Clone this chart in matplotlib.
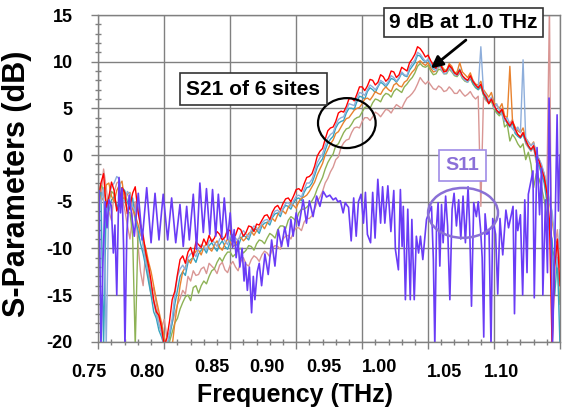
import numpy as np
import matplotlib
matplotlib.use("Agg")
import matplotlib.pyplot as plt
from matplotlib.patches import Ellipse
from matplotlib.ticker import MultipleLocator

plt.rcParams['font.family'] = ['Liberation Sans', 'DejaVu Sans']
plt.rcParams['font.weight'] = 'bold'
plt.rcParams['axes.unicode_minus'] = False

# ---------------- data ----------------
# S21 of the six measured sites, sampled every 2 GHz from 0.750 to 1.100 THz
freq_s21 = np.round(np.linspace(0.750, 1.100, 176), 3)

s21_red = [-4.8, -3.0, -2.0, -5.6, -4.5, -2.9, -3.8, -6.0, -5.2, -3.5,
           -4.0, -6.3, -5.5, -4.1, -3.4, -6.0, -7.5, -8.6, -10.5, -11.8,
           -13.5, -15.6, -16.8, -17.2, -18.5, -20.5, -19.6, -17.8, -15.5, -14.6,
           -12.8, -11.2, -10.8, -11.6, -10.4, -9.9, -10.9, -9.3, -9.6, -9.9,
           -9.0, -9.6, -8.6, -9.3, -8.9, -8.2, -8.5, -9.1, -8.8, -8.0,
           -8.1, -8.9, -8.6, -7.8, -8.0, -8.7, -8.3, -7.6, -7.7, -8.2,
           -7.4, -7.5, -7.0, -6.5, -6.4, -6.9, -6.1, -5.6, -5.4, -5.9,
           -5.2, -4.7, -4.6, -5.0, -4.4, -3.7, -3.6, -3.9, -3.1, -2.4,
           -2.3, -2.0, -1.2, -0.1, 0.4, 0.7, 1.7, 2.6, 2.9, 3.0,
           3.6, 4.5, 4.7, 4.6, 5.2, 6.0, 6.1, 5.8, 6.5, 7.3,
           7.3, 6.9, 7.4, 8.1, 8.0, 7.5, 7.8, 8.6, 8.4, 7.9,
           8.2, 9.0, 8.9, 8.3, 8.6, 9.4, 9.2, 9.0, 9.9, 10.3,
           10.8, 11.6, 11.4, 11.0, 10.5, 10.7, 10.1, 9.6, 9.3, 9.9,
           9.5, 8.9, 9.0, 9.6, 9.3, 8.8, 8.6, 9.1, 8.5, 8.2,
           8.0, 8.5, 7.9, 7.5, 7.2, 7.6, 6.6, 6.2, 5.5, 6.0,
           5.3, 4.8, 4.5, 4.9, 4.0, 3.5, 3.1, 3.6, 2.8, 2.2,
           1.9, 2.4, 1.6, 1.0, 0.6, 1.0, -0.2, -0.6, -1.5, -2.4,
           -4.0, -7.0, -20.5, -12.0, -9.0, -14.0]

s21_blue = [-4.0, -5.2, -3.5, -20.5, -4.5, -3.4, -3.0, -2.3, -2.6, -4.8,
            -5.0, -3.9, -4.2, -5.5, -6.0, -5.2, -8.0, -9.8, -11.5, -12.6,
            -14.0, -15.8, -17.0, -18.2, -19.0, -20.5, -20.5, -19.0, -17.5, -15.0,
            -13.0, -12.2, -11.8, -12.3, -11.0, -10.6, -10.4, -10.9, -10.0, -9.6,
            -9.8, -10.2, -9.2, -9.0, -9.4, -9.8, -9.0, -8.7, -9.2, -9.6,
            -8.7, -8.5, -8.9, -9.2, -8.4, -8.1, -8.5, -8.8, -8.0, -7.6,
            -7.8, -8.1, -7.3, -7.0, -6.9, -7.2, -6.5, -6.0, -5.9, -6.3,
            -5.7, -5.2, -5.1, -5.5, -4.9, -4.4, -4.3, -4.5, -3.7, -3.0,
            -3.0, -2.6, -1.8, -0.8, -0.3, 0.1, 1.0, 1.8, 2.2, 2.4,
            3.2, 3.8, 4.0, 4.1, 4.8, 5.5, 5.4, 5.3, 6.1, 6.7,
            6.6, 6.4, 7.0, 7.5, 7.3, 7.0, 7.4, 8.0, 7.8, 7.5,
            7.9, 8.5, 8.3, 7.9, 8.3, 8.9, 8.6, 8.5, 9.4, 9.8,
            10.2, 11.0, 10.8, 10.4, 10.0, 10.3, 9.8, 9.3, 9.0, 9.6,
            9.2, 8.7, 8.8, 9.4, 9.0, 8.6, 8.5, 8.9, 8.3, 8.0,
            7.8, 8.3, 8.0, 7.4, 7.2, 11.6, 6.8, 6.4, 5.8, 6.2,
            5.0, 5.5, 4.8, 4.3, 3.6, 4.0, 3.3, 2.8, 2.5, 3.0,
            2.4, 10.2, 1.8, 1.4, 1.0, 1.3, 0.3, -0.4, -1.0, -2.0,
            -3.0, -5.0, -6.0, -9.0, -12.0, -8.0]

s21_teal = [-5.5, -4.0, -20.5, -5.0, -6.0, -4.8, -4.5, -5.6, -5.0, -3.5,
            -3.8, -5.0, -5.8, -4.6, -7.0, -8.0, -9.5, -10.6, -12.0, -13.5,
            -15.0, -16.8, -17.5, -18.8, -19.5, -20.5, -20.5, -19.5, -18.0, -16.0,
            -14.5, -13.0, -12.5, -12.9, -11.5, -11.2, -11.0, -11.5, -10.6, -10.2,
            -10.0, -10.5, -9.7, -9.4, -9.9, -10.3, -9.6, -9.2, -9.8, -10.1,
            -9.3, -9.0, -9.5, -9.8, -9.0, -8.6, -8.8, -9.1, -8.3, -7.9,
            -8.0, -8.4, -7.6, -7.3, -7.2, -7.5, -6.7, -6.3, -6.2, -6.6,
            -5.8, -5.4, -5.5, -5.8, -5.1, -4.7, -4.6, -4.9, -4.0, -3.5,
            -3.4, -3.0, -2.2, -1.3, -0.8, -0.4, 0.5, 1.3, 1.7, 2.0,
            2.9, 3.4, 3.6, 3.7, 4.5, 5.0, 5.0, 4.9, 5.7, 6.3,
            6.2, 6.0, 6.8, 7.2, 7.0, 6.7, 7.3, 7.8, 7.6, 7.3,
            7.7, 8.2, 8.1, 7.8, 8.2, 8.8, 8.5, 8.4, 9.1, 9.5,
            9.9, 10.7, 10.6, 10.2, 10.0, 10.2, 9.6, 9.2, 9.3, 9.8,
            9.5, 9.0, 9.1, 9.6, 9.2, 8.7, 8.8, 9.2, 8.4, 8.1,
            7.9, 8.3, 7.7, 7.3, 7.0, 7.4, 6.5, 6.0, 5.6, 6.0,
            5.2, 4.7, 4.4, 4.8, 3.9, 3.4, 3.0, 3.4, 2.3, 2.0,
            1.8, 2.2, 1.4, 0.9, 0.5, 0.9, -0.5, -1.0, -2.0, -3.0,
            -5.0, -8.0, -9.0, -15.0, -11.0, -20.5]

s21_orange = [-3.5, -5.0, -4.5, -3.2, -3.0, -4.4, -5.0, -3.8, -3.2, -2.8,
              -5.0, -4.2, -4.0, -5.8, -6.5, -7.4, -8.5, -9.2, -10.0, -11.4,
              -12.5, -14.0, -15.5, -16.8, -18.0, -19.5, -20.5, -20.5, -20.5, -18.0,
              -16.0, -14.0, -12.5, -12.0, -11.2, -11.6, -10.8, -10.3, -10.2, -10.7,
              -9.9, -9.5, -10.0, -10.3, -9.6, -9.2, -9.9, -10.2, -9.5, -9.0,
              -9.3, -9.8, -9.6, -9.0, -8.8, -9.2, -8.9, -8.4, -8.2, -8.6,
              -8.1, -7.7, -7.5, -7.9, -7.3, -6.9, -6.8, -7.1, -6.4, -6.0,
              -6.0, -6.3, -5.6, -5.2, -5.4, -5.7, -5.0, -4.6, -4.5, -4.3,
              -3.9, -3.4, -2.9, -2.1, -1.5, -0.9, 0.0, 0.6, 1.2, 1.6,
              2.3, 2.5, 3.0, 3.5, 3.9, 4.0, 4.4, 4.8, 5.0, 5.1,
              5.5, 6.0, 6.1, 5.9, 6.3, 6.8, 6.6, 6.5, 7.0, 7.3,
              7.0, 6.8, 7.5, 7.7, 7.4, 7.3, 7.8, 8.0, 8.5, 8.9,
              9.2, 9.9, 10.1, 9.8, 9.6, 9.9, 9.3, 8.9, 9.0, 9.5,
              9.6, 9.2, 9.0, 9.8, 9.5, 8.8, 8.9, 9.9, 8.9, 8.6,
              8.3, 8.8, 8.0, 7.6, 7.5, 7.9, 7.0, 6.6, 6.2, 6.7,
              5.6, 5.3, 5.0, 5.5, 4.2, 4.0, 9.5, 3.6, 3.0, 2.6,
              2.4, 2.9, 1.8, 1.4, 1.0, 1.4, 0.0, -0.4, -1.2, -2.0,
              -3.5, -5.0, -7.0, -9.0, -9.5, -12.0]

s21_green = [-4.5, -3.2, -3.8, -5.0, -5.0, -3.9, -4.2, -5.6, -5.5, -4.4,
             -4.8, -6.0, -6.2, -8.5, -20.5, -9.0, -7.5, -9.5, -11.0, -12.8,
             -14.5, -15.6, -17.0, -18.2, -19.0, -20.5, -20.5, -20.0, -19.0, -18.0,
             -17.5, -16.5, -15.8, -15.2, -15.0, -15.6, -14.2, -14.0, -14.8, -14.0,
             -13.5, -13.8, -13.0, -12.4, -12.2, -11.5, -11.0, -11.4, -10.8, -10.4,
             -10.4, -10.9, -10.6, -10.1, -10.0, -10.5, -10.2, -9.7, -9.8, -10.2,
             -9.5, -9.1, -9.2, -9.5, -8.9, -8.4, -8.6, -8.9, -8.0, -7.6,
             -7.6, -7.9, -7.0, -6.6, -6.8, -7.1, -6.2, -5.8, -5.8, -5.6,
             -5.3, -4.9, -4.4, -3.6, -3.0, -2.4, -1.5, -0.8, -0.3, 0.1,
             1.0, 1.2, 1.8, 2.4, 2.8, 2.9, 3.3, 3.8, 4.0, 4.1,
             4.6, 5.1, 5.2, 5.0, 5.6, 6.0, 5.9, 5.7, 6.3, 6.6,
             6.5, 6.2, 6.8, 7.1, 6.9, 6.7, 7.3, 7.6, 8.0, 8.3,
             8.8, 9.5, 9.8, 9.5, 9.4, 9.6, 9.0, 8.6, 8.7, 9.2,
             9.1, 8.7, 8.7, 9.2, 8.9, 8.5, 8.4, 8.8, 8.2, 7.9,
             7.8, 8.2, 7.6, 7.2, 7.0, 7.3, 6.4, 6.0, 5.5, 5.8,
             4.9, 4.5, 4.2, 4.6, 3.0, 3.3, 1.5, 2.2, 1.8, 1.2,
             0.8, 1.2, -0.5, 0.3, -1.0, -3.5, -2.0, -2.5, -3.5, -4.8,
             -6.5, -8.0, -10.0, -11.0, -12.0, -16.0]

s21_pink = [-3.0, -4.5, -1.5, -3.5, -6.0, -7.0, -4.0, -3.0, -2.8, -4.6,
            -5.8, -7.5, -9.0, -6.5, -5.0, -9.5, -12.5, -14.0, -10.0, -13.0,
            -15.0, -14.2, -16.0, -17.5, -18.5, -17.6, -19.5, -19.0, -18.0, -17.0,
            -16.0, -15.4, -14.5, -14.9, -13.0, -13.5, -12.4, -12.9, -12.8, -12.2,
            -12.0, -12.7, -11.6, -11.9, -12.2, -12.7, -11.8, -11.5, -12.3, -12.6,
            -11.8, -11.4, -12.0, -12.4, -11.4, -11.0, -11.7, -11.9, -11.2, -10.8,
            -11.0, -11.4, -10.7, -10.3, -10.5, -10.9, -10.0, -9.7, -9.8, -10.1,
            -9.0, -8.7, -8.6, -9.0, -8.2, -7.8, -7.8, -8.1, -7.2, -6.8,
            -6.8, -6.5, -5.8, -5.0, -4.5, -3.9, -3.0, -2.5, -1.8, -1.3,
            -0.5, -0.2, 0.8, 1.3, 1.6, 1.7, 2.4, 2.9, 3.0, 2.9,
            3.6, 4.0, 4.0, 3.7, 4.1, 4.6, 4.4, 4.1, 4.5, 4.9,
            4.8, 4.5, 5.0, 5.4, 5.2, 5.0, 5.6, 6.1, 6.3, 6.6,
            7.0, 7.6, 8.3, 7.9, 7.6, 7.9, 7.5, 7.1, 7.0, 7.4,
            7.2, 6.8, 6.9, 7.3, 7.0, 6.6, 6.6, 7.0, 6.6, 6.3,
            6.5, 6.8, 6.3, 6.0, 6.3, -5.5, 6.2, 5.8, 5.6, 5.9,
            5.0, 4.7, 4.6, 5.0, 3.9, 3.6, 3.4, 3.8, 2.5, 2.2,
            2.0, 2.4, 1.2, 0.8, 0.4, 0.8, -0.8, -1.2, -2.0, -2.8,
            -4.0, 16.0, -20.5, -10.0, -8.0, -12.0]

# S11 (reflection), turning points of the trace
freq_s11 = [0.7500, 0.7506, 0.7520, 0.7536, 0.7552, 0.7566, 0.7580, 0.7598, 0.7614, 0.7626,
            0.7640, 0.7657, 0.7668, 0.7680, 0.7692, 0.7702, 0.7716, 0.7734, 0.7773, 0.7803,
            0.7833, 0.7867, 0.7900, 0.7930, 0.7960, 0.7992, 0.8026, 0.8056, 0.8087, 0.8119,
            0.8144, 0.8170, 0.8190, 0.8220, 0.8245, 0.8270, 0.8296, 0.8320, 0.8345, 0.8366,
            0.8390, 0.8410, 0.8435, 0.8455, 0.8480, 0.8500, 0.8518, 0.8530, 0.8545, 0.8560,
            0.8573, 0.8590, 0.8605, 0.8615, 0.8630, 0.8645, 0.8662, 0.8675, 0.8687, 0.8705,
            0.8720, 0.8738, 0.8763, 0.8788, 0.8814, 0.8839, 0.8864, 0.8889, 0.8914, 0.8939,
            0.8960, 0.8977, 0.9000, 0.9020, 0.9053, 0.9078, 0.9100, 0.9128, 0.9155, 0.9180,
            0.9205, 0.9230, 0.9255, 0.9280, 0.9300, 0.9316, 0.9335, 0.9356, 0.9372, 0.9386,
            0.9397, 0.9417, 0.9436, 0.9455, 0.9472, 0.9492, 0.9510, 0.9525, 0.9540, 0.9564,
            0.9580, 0.9598, 0.9619, 0.9640, 0.9655, 0.9672, 0.9695, 0.9718, 0.9740, 0.9752,
            0.9775, 0.9790, 0.9803, 0.9812, 0.9828, 0.9846, 0.9865, 0.9877, 0.9895, 0.9911,
            0.9928, 0.9942, 0.9960, 0.9988, 1.0006, 1.0026, 1.0040, 1.0051, 1.0064, 1.0076,
            1.0089, 1.0102, 1.0114, 1.0133, 1.0148, 1.0165, 1.0182, 1.0197, 1.0215, 1.0232,
            1.0248, 1.0265, 1.0283, 1.0303, 1.0315, 1.0329, 1.0346, 1.0366, 1.0380, 1.0398,
            1.0410, 1.0422, 1.0432, 1.0446, 1.0462, 1.0477, 1.0490, 1.0512, 1.0528, 1.0545,
            1.0566, 1.0590, 1.0610, 1.0644, 1.0655, 1.0668, 1.0680, 1.0700, 1.0717, 1.0733,
            1.0750, 1.0760, 1.0795, 1.0805, 1.0826, 1.0845, 1.0860, 1.0870, 1.0890, 1.0905,
            1.0917, 1.0928, 1.0943, 1.0960, 1.0978, 1.0988, 1.1000]

s11_db = [-4.2, -3.8, -20.5, -11.0, -5.0, -7.8, -4.8, -5.4, -10.5, -7.5,
          -15.0, -2.4, -6.2, -3.6, -10.0, -20.5, -8.5, -4.3, -8.7, -4.1,
          -9.1, -3.5, -9.4, -4.1, -9.1, -4.2, -9.1, -4.6, -9.4, -5.3,
          -9.8, -5.5, -9.1, -4.2, -10.1, -3.0, -8.3, -3.6, -8.5, -3.7,
          -8.7, -4.2, -8.8, -4.6, -9.0, -6.2, -9.9, -8.0, -11.0, -9.2,
          -12.0, -10.0, -13.5, -11.5, -14.5, -12.0, -16.9, -13.0, -15.5, -12.5,
          -11.6, -14.0, -10.6, -12.8, -9.1, -11.9, -8.0, -9.8, -7.7, -9.8,
          -6.9, -8.7, -6.2, -7.6, -4.8, -7.3, -4.9, -6.6, -4.4, -5.5,
          -3.9, -4.5, -4.3, -4.8, -4.6, -5.0, -4.9, -6.2, -5.1, -5.4,
          -5.6, -9.2, -4.6, -8.7, -5.0, -4.2, -7.3, -4.0, -8.5, -9.4,
          -4.0, -8.9, -2.6, -7.3, -3.4, -7.3, -3.3, -8.2, -3.8, -10.1,
          -12.3, -3.7, -9.8, -5.5, -15.5, -5.8, -15.5, -6.9, -15.5, -8.7,
          -10.5, -8.7, -11.2, -6.9, -6.2, -5.5, -11.2, -20.5, -7.6, -5.1,
          -11.9, -5.3, -9.4, -4.4, -7.6, -15.5, -5.8, -4.1, -7.6, -4.8,
          -9.0, -4.4, -9.4, -3.4, -7.6, -16.2, -5.1, -6.6, -5.0, -8.0,
          -11.0, -19.5, -6.3, -8.5, -8.1, -20.5, -6.8, -8.5, -14.9, -6.8,
          -10.7, -5.9, -7.8, -5.5, -17.0, -5.9, -8.1, -6.4, -15.0, -4.8,
          -12.6, -4.2, -1.7, -15.3, 0.8, -6.4, -1.4, -15.0, -4.8, -12.6,
          6.1, -2.5, -20.5, -10.0, 4.3, -6.0, 0.0]

xtick_labels = ["0.75", "0.80", "0.85", "0.90", "0.95", "1.00", "1.05", "1.10"]

# ---------------- figure ----------------
W, H = 582, 411
fig = plt.figure(figsize=(W / 100, H / 100), dpi=100)
ax = fig.add_axes([98.3 / W, 1 - 341.7 / H, (560 - 98.3) / W, (341.7 - 15) / H])

grey = '#808080'
ax.set_xlim(0.75, 1.10)
ax.set_ylim(-20, 15)
ax.xaxis.set_major_locator(MultipleLocator(0.05))
ax.xaxis.set_minor_locator(MultipleLocator(0.01))
ax.yaxis.set_major_locator(MultipleLocator(5))
ax.yaxis.set_minor_locator(MultipleLocator(1))
ax.grid(True, which='major', color=grey, lw=1.0)
ax.set_axisbelow(True)
for sp in ax.spines.values():
    sp.set_color(grey)
    sp.set_linewidth(1.0)
ax.tick_params(which='major', direction='out', length=5, width=1, color=grey)
ax.tick_params(which='minor', direction='inout', length=5, width=1, color=grey)
ax.tick_params(axis='y', which='major', pad=13.5, labelsize=13)
ax.tick_params(axis='x', labelbottom=False)

# S21 traces
s21_sets = [
    (s21_pink, '#D99694'),
    (s21_green, '#8DB255'),
    (s21_teal, '#35A3C0'),
    (s21_orange, '#E8822E'),
    (s21_blue, '#8EAEDB'),
    (s21_red, '#FF0000'),
]
for vals, col in s21_sets:
    ax.plot(freq_s21, vals, color=col, lw=1.0)

# S11 trace
ax.plot(freq_s11, s11_db, color='#6A3CF6', lw=1.2)

# annotations
ax.add_patch(Ellipse((0.9384, 3.42), 0.0437, 5.35, fill=False, ec='black', lw=1.6, zorder=4))
ax.add_patch(Ellipse((1.0265, -6.2), 0.053, 5.35, fill=False, ec='#8A70D6', lw=1.8, zorder=4))

ax.text(0.8676, 7.05, "S21 of 6 sites", fontsize=15, fontweight='bold', ha='center', va='center',
        bbox=dict(boxstyle='square,pad=0.32', fc='white', ec='#333333', lw=1.2), zorder=5)
ax.text(1.027, 14.2, "9 dB at 1.0 THz", fontsize=15, fontweight='bold', ha='center', va='center',
        bbox=dict(boxstyle='square,pad=0.25', fc='white', ec='#333333', lw=1.2), zorder=5,
        clip_on=False)
ax.text(1.0262, -1.1, "S11", fontsize=14, fontweight='bold', ha='center', va='center',
        color='#8B70D8',
        bbox=dict(boxstyle='square,pad=0.35', fc='white', ec='#A08CE6', lw=1.2), zorder=5)
ax.annotate("", xy=(1.0005, 9.1), xytext=(1.0303, 12.5),
            arrowprops=dict(arrowstyle='-|>,head_length=0.7,head_width=0.35', color='black', lw=2.0),
            zorder=6)

# x tick labels (placed individually under the axis)
label_x = [88.5, 147, 211.5, 266.7, 323.5, 380, 444, 501.7]
label_y = [372, 372, 367.5, 367.5, 367.5, 367.5, 372.5, 372.5]
for lab, px, py in zip(xtick_labels, label_x, label_y):
    fig.text(px / W, 1 - py / H, lab, fontsize=13, fontweight='bold', ha='center', va='center')

fig.text(295 / W, 1 - 395 / H, "Frequency (THz)", fontsize=18, fontweight='bold',
         ha='center', va='center')
fig.text(17.5 / W, 1 - 183.5 / H, "S-Parameters (dB)", fontsize=22, fontweight='bold',
         ha='center', va='center', rotation=90)

fig.savefig("out.png", dpi=100)
